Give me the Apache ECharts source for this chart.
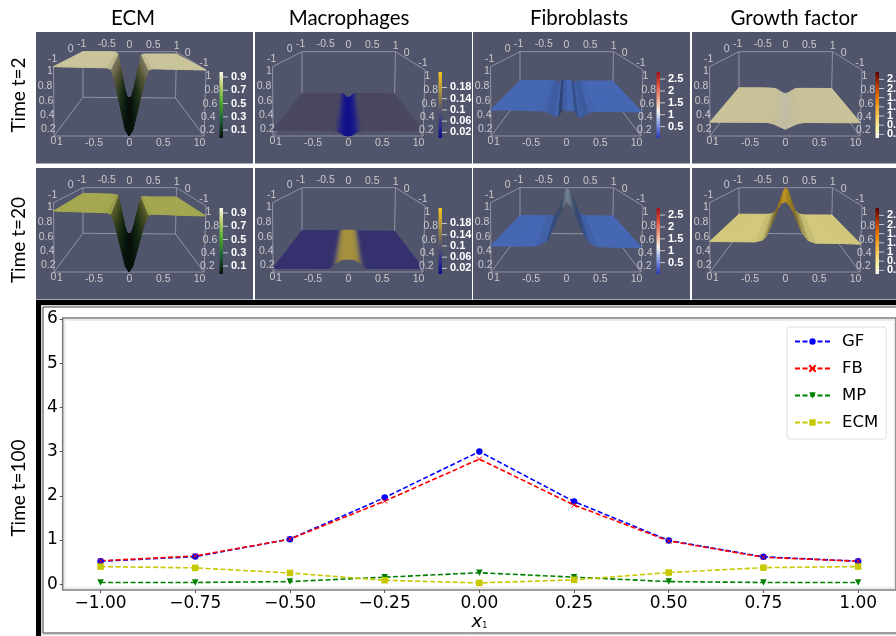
<!DOCTYPE html>
<html><head><meta charset="utf-8">
<style>html,body{margin:0;padding:0;background:#fff}#c{width:896px;height:636px;filter:blur(0.4px)}</style>
<script src="https://cdn.jsdelivr.net/npm/echarts@6/dist/echarts.min.js"></script>
</head><body><div id="c"></div>
<script>
// ---- line chart at t=100 ----
const x1Values = [-1, -0.75, -0.5, -0.25, 0, 0.25, 0.5, 0.75, 1];
const yTicks = [0, 1, 2, 3, 4, 5, 6];
const gfValues = [0.52, 0.625, 1.02, 1.96, 3.0, 1.87, 0.99, 0.62, 0.52];
const fbValues = [0.53, 0.64, 1.02, 1.88, 2.83, 1.79, 0.98, 0.61, 0.52];
const mpValues = [0.04, 0.04, 0.06, 0.16, 0.26, 0.16, 0.06, 0.04, 0.04];
const ecmValues = [0.40, 0.37, 0.255, 0.09, 0.03, 0.10, 0.265, 0.375, 0.40];

// ---- surface profiles: height along x at the near and far edge ----
const surfaceX = [-1, -0.7, -0.4, -0.3, -0.25, -0.2, -0.15, -0.1, -0.05, 0, 0.05, 0.1, 0.15, 0.2, 0.25, 0.3, 0.4, 0.7, 1];
const ecmT2Near = [1, 1, 1, 1, .98, .83, .58, .33, .09, 0, .09, .33, .58, .83, .98, 1, 1, 1, 1];
const ecmT2Far = [1, 1, 1, .99, .95, .71, .45, .2, .02, 0, .02, .2, .45, .71, .93, .95, .95, .95, .95];
const ecmT20Near = [.88, .875, .87, .87, .85, .73, .52, .3, .09, 0, .09, .3, .52, .73, .85, .86, .86, .85, .85];
const ecmT20Far = [.875, .87, .86, .85, .83, .63, .4, .18, .02, 0, .02, .18, .4, .63, .8, .81, .8, .8, .8];
const mpT2Near = [.085, .085, .085, .085, .085, .08, .07, .045, .01, 0, .01, .045, .07, .08, .085, .085, .085, .085, .085];
const mpT2Far = [.09, .09, .09, .09, .09, .09, .09, .075, .02, 0, .02, .075, .09, .09, .09, .09, .09, .09, .09];
const mpT20Near = [.055, .055, .055, .055, .055, .09, .14, .175, .19, .19, .19, .175, .14, .09, .055, .055, .055, .055, .055];
const mpT20Far = [.06, .06, .06, .06, .06, .06, .065, .075, .075, .075, .075, .075, .065, .06, .06, .06, .06, .06, .06];
const fbT2Near = [.375, .375, .37, .365, .35, .32, .29, .30, .40, .375, .375, .37, .30, .28, .31, .35, .365, .365, .365];
const fbT2Far = [.365, .365, .365, .365, .365, .36, .33, .38, .38, .37, .38, .38, .33, .35, .365, .365, .365, .365, .365];
const fbT20Near = [.375, .375, .38, .43, .46, .59, .70, .82, .95, 1.04, .98, .89, .76, .63, .52, .44, .38, .37, .37];
const fbT20Far = [.39, .39, .39, .39, .39, .46, .55, .72, .88, 1, .95, .85, .74, .62, .50, .42, .39, .39, .39];
const gfT2Near = [.2, .2, .2, .2, .2, .19, .175, .15, .125, .1, .125, .15, .175, .19, .2, .2, .2, .2, .2];
const gfT2Far = [.21, .21, .21, .205, .2, .19, .16, .13, .1, .09, .1, .13, .16, .19, .2, .205, .205, .205, .205];
const gfT20Near = [.44, .44, .44, .47, .53, .66, .80, .94, 1.02, 1.04, .98, .89, .76, .63, .54, .47, .43, .43, .42];
const gfT20Far = [.42, .42, .42, .43, .46, .51, .62, .76, .92, 1, .94, .78, .64, .52, .46, .43, .41, .41, .41];

// ---- colour-bar tick labels ----
const ecmBarTicks = [0.9, 0.7, 0.5, 0.3, 0.1];
const mpBarTicks = [0.18, 0.14, 0.1, 0.06, 0.02];
const fbBarTicks = [2.5, 2, 1.5, 1, 0.5];
const gfBarTicks = [2.6, 2.2, 1.8, 1.4, 1, 0.6, 0.2];

const columnTitles = ['ECM', 'Macrophages', 'Fibroblasts', 'Growth factor'];

// ---- layout and styles ----
const PANEL_BG = '#51556c';
const panelLeft = [36, 255, 473, 692];
const panelTop = [32, 168];
const panelW = [217, 217, 217, 204], panelH = 131.5;
const titleX = [133, 349, 579, 794];
const corners = { nBL:[18,104], nBR:[168,104], fBL:[47,65.3], fBR:[139.5,66], nTL:[17.5,34.7], nTR:[170,38], fTL:[47,19.7], fTR:[140.5,19.7] };
const axisText = [
 ['-1',45.7,12],['-0.5',70.7,12],['0',93.3,13],['0.5',117.3,13],['1',140.7,14],['0',34.7,17.3],['0',151.7,20.7],['-1',16.7,27],['-1',168,30.7],
 ['1',14,39],['0.8',9,54],['0.6',10,68.7],['0.4',11.3,83],['0.2',12.3,97.3],
 ['0',17.3,109],['1',24,109.7],['-0.5',58,110.7],['0',93.3,111.3],['0.5',127.3,111.3],['1',160.7,111.3],['0',166.3,111.3],
 ['1',172.3,43.7],['0.8',175.7,58],['0.6',174,72],['0.4',172.3,85.3],['0.2',171.3,98]
];
const barRanges = [[-0.02,0.976],[0,0.235],[0.02,2.8],[0.04,2.92]];
const barTicks = [ecmBarTicks, mpBarTicks, fbBarTicks, gfBarTicks];
const barGradients = [
 [[0,'#fdfdf0'],[.18,'#c8d27a'],[.45,'#4fae2e'],[.72,'#1b5f38'],[1,'#0a0e0e']],
 [[0,'#f3c420'],[.3,'#a8923e'],[.55,'#5c5a68'],[.75,'#3a3a88'],[1,'#0c0c8c']],
 [[0,'#9c1616'],[.2,'#e2503c'],[.42,'#f2ab90'],[.6,'#f4f4f4'],[.8,'#7c98e6'],[1,'#2434b4']],
 [[0,'#5a0000'],[.22,'#bc3c00'],[.42,'#ee8200'],[.65,'#f8c850'],[.85,'#f8f0a4'],[1,'#ffffff']]
];
const panels = [
 {c:0,r:0,k:.17,near:ecmT2Near,far:ecmT2Far,stops:[[0,'#0a120e'],[.2,'#10281a'],[.5,'#33522a'],[.8,'#8c8a56'],[.95,'#cbc59c'],[1,'#cbc59c']]},
 {c:1,r:0,k:0,near:mpT2Near,far:mpT2Far,stops:[[0,'#10108c'],[.045,'#1f1e86'],[.07,'#3a3878'],[.08,'#4a4860'],[.1,'#4a4860']]},
 {c:2,r:0,k:.17,near:fbT2Near,far:fbT2Far,stops:[[0,'#4668b4'],[1,'#4668b4']]},
 {c:3,r:0,k:.04,near:gfT2Near,far:gfT2Far,stops:[[.1,'#c6c2aa'],[.2,'#cac39a']]},
 {c:0,r:1,k:.17,near:ecmT20Near,far:ecmT20Far,stops:[[0,'#0a120e'],[.2,'#0e2618'],[.5,'#28481f'],[.75,'#6e7a34'],[.85,'#a4a850'],[1,'#a4a850']]},
 {c:1,r:1,k:0,near:mpT20Near,far:mpT20Far,stops:[[.055,'#35326f'],[.09,'#423e70'],[.13,'#6f6560'],[.17,'#9c8a45'],[.19,'#a6913f']]},
 {c:2,r:1,k:.12,near:fbT20Near,far:fbT20Far,stops:[[.4,'#4668b4'],[.7,'#4f6cac'],[.92,'#5f7494'],[1.04,'#8698a8']]},
 {c:3,r:1,k:.12,near:gfT20Near,far:gfT20Far,stops:[[.44,'#d2c97c'],[.65,'#c8b860'],[.88,'#b89a30'],[1.04,'#c39a25']]}
];

function lerp(a,b,t){return a+(b-a)*t;}
function hex(c){return [parseInt(c.slice(1,3),16),parseInt(c.slice(3,5),16),parseInt(c.slice(5,7),16)];}
function colourAt(stops,v,shade){
  let rgb;
  if(v<=stops[0][0]) rgb=hex(stops[0][1]);
  else if(v>=stops[stops.length-1][0]) rgb=hex(stops[stops.length-1][1]);
  else for(let i=0;i<stops.length-1;i++){
    if(v>=stops[i][0]&&v<=stops[i+1][0]){
      const t=(v-stops[i][0])/(stops[i+1][0]-stops[i][0]||1),a=hex(stops[i][1]),b=hex(stops[i+1][1]);
      rgb=[lerp(a[0],b[0],t),lerp(a[1],b[1],t),lerp(a[2],b[2],t)];break;
    }
  }
  return 'rgb('+rgb.map(function(q){return Math.round(q*shade);}).join(',')+')';
}
// project (x in -1..1, t near=0..far=1, z height 0..1) through the box's eight corners
function project(x,t,z){
  const u=(x+1)/2, C=corners;
  const bot=[lerp(lerp(C.nBL[0],C.nBR[0],u),lerp(C.fBL[0],C.fBR[0],u),t),lerp(lerp(C.nBL[1],C.nBR[1],u),lerp(C.fBL[1],C.fBR[1],u),t)];
  const top=[lerp(lerp(C.nTL[0],C.nTR[0],u),lerp(C.fTL[0],C.fTR[0],u),t),lerp(lerp(C.nTL[1],C.nTR[1],u),lerp(C.fTL[1],C.fTR[1],u),t)];
  return [lerp(bot[0],top[0],z),lerp(bot[1],top[1],z)];
}
function surfaceSeries(p,gridIndex){
  const data=surfaceX.map(function(x,i){return [x,p.near[i],p.far[i]];});
  return {type:'custom',xAxisIndex:gridIndex,yAxisIndex:gridIndex,silent:true,z:3,clip:false,data:data,
    encode:{x:0,y:1},
    renderItem:function(params,api){
      const i=params.dataIndex; if(i>=data.length-1) return {type:'group',children:[]};
      const a=data[i],b=data[i+1],children=[],n=4;
      const slope=Math.abs((b[1]-a[1])/(b[0]-a[0]));
      const shade=Math.max(0.6,1-p.k*slope);
      for(let k=0;k<n;k++){
        const s0=k/n,s1=(k+1)/n,x0=lerp(a[0],b[0],s0),x1=lerp(a[0],b[0],s1);
        const zn0=lerp(a[1],b[1],s0),zn1=lerp(a[1],b[1],s1),zf0=lerp(a[2],b[2],s0),zf1=lerp(a[2],b[2],s1);
        const pts=[project(x0,0,zn0),project(x1,0,zn1),project(x1,1,zf1),project(x0,1,zf0)].map(function(q){return api.coord(q);});
        const col=colourAt(p.stops,(zn0+zn1)/2,shade);
        children.push({type:'polygon',shape:{points:pts},style:{fill:col,stroke:col,lineWidth:1},z2:Math.round((zn0+zn1)*500)});
      }
      return {type:'group',children:children};
    }};
}
function decorSeries(p,gridIndex,above){
  return {type:'custom',xAxisIndex:gridIndex,yAxisIndex:gridIndex,silent:true,z:above?4:2,clip:false,data:[[0,0]],encode:{x:0,y:1},
    renderItem:function(params,api){
      const ch=[],C=corners;
      function seg(a,b){const A=api.coord(a),B=api.coord(b);ch.push({type:'line',shape:{x1:A[0],y1:A[1],x2:B[0],y2:B[1]},style:{stroke:'#8f92a4',lineWidth:1}});}
      if(!above){
        [[C.fTL,C.fTR],[C.fBL,C.fBR],[C.nBL,C.nBR],[C.fTL,C.fBL],[C.fTR,C.fBR],[C.nTL,C.nBL],[C.nTR,C.nBR],[C.nBL,C.fBL],[C.nBR,C.fBR],[C.nTL,C.fTL],[C.nTR,C.fTR]].forEach(function(s){seg(s[0],s[1]);});
        return {type:'group',children:ch};
      }
      axisText.forEach(function(t){const q=api.coord([t[1],t[2]]);ch.push({type:'text',style:{text:t[0],x:q[0],y:q[1],align:'center',verticalAlign:'middle',fill:'#c9c9c9',font:'10.5px "Liberation Sans"'}});});
      const barL=api.coord([183.5,40]),barR=api.coord([187,106]),range=barRanges[p.c];
      const cs=barGradients[p.c].map(function(s){return {offset:s[0],color:s[1]};});
      ch.push({type:'rect',shape:{x:barL[0],y:barL[1],width:barR[0]-barL[0],height:barR[1]-barL[1]},style:{fill:new echarts.graphic.LinearGradient(0,0,0,1,cs)}});
      barTicks[p.c].forEach(function(v){
        const y=106-(v-range[0])/(range[1]-range[0])*66;
        const a=api.coord([187,y]),b=api.coord([192,y]),l=api.coord([195,y]);
        ch.push({type:'line',shape:{x1:a[0],y1:a[1],x2:b[0],y2:b[1]},style:{stroke:'#c9c9c9',lineWidth:1}});
        ch.push({type:'text',style:{text:String(v),x:l[0],y:l[1],align:'left',verticalAlign:'middle',fill:'#ffffff',font:'bold 11px "Liberation Sans"'}});
      });
      return {type:'group',children:ch};
    }};
}

const FONT='"DejaVu Sans"', LABEL='Lato';
const grids=[{left:62.7,top:318,width:834.5,height:272,show:true,backgroundColor:'transparent',borderColor:'#7d7d7d',borderWidth:1.6}];
const xAxes=[{type:'value',gridIndex:0,min:-1.1,max:1.1,splitLine:{show:false},axisLine:{show:false,onZero:false},
  axisTick:{show:true,length:3,customValues:x1Values,lineStyle:{color:'#555'}},
  axisLabel:{customValues:x1Values,margin:5,color:'#000',fontFamily:FONT,fontSize:17,
    formatter:function(v){return (v<0?'\u2212':'')+Math.abs(v).toFixed(2);}},
  name:'{a|x}{b|1}',nameLocation:'middle',nameGap:20,
  nameTextStyle:{rich:{a:{fontFamily:FONT,fontStyle:'italic',fontSize:18,color:'#000'},b:{fontFamily:FONT,fontSize:8,color:'#000',padding:[9,0,0,0]}}}}];
const yAxes=[{type:'value',gridIndex:0,min:-0.13,max:6.02,splitLine:{show:false},axisLine:{show:false,onZero:false},
  axisTick:{show:true,length:3,customValues:yTicks,lineStyle:{color:'#555'}},
  axisLabel:{customValues:yTicks,margin:5,color:'#000',fontFamily:FONT,fontSize:17,padding:[4,0,0,0]}}];
const series=[];
panels.forEach(function(p){
  const w=panelW[p.c],g=grids.length;
  grids.push({left:panelLeft[p.c],top:panelTop[p.r],width:w,height:panelH,show:true,backgroundColor:PANEL_BG,borderWidth:0});
  xAxes.push({type:'value',gridIndex:g,min:0,max:w,show:false});
  yAxes.push({type:'value',gridIndex:g,min:0,max:panelH,inverse:true,show:false});
  series.push(decorSeries(p,g,false),surfaceSeries(p,g),decorSeries(p,g,true));
});
const xMark='path://M0 0L10 10M10 0L0 10';
function lineSeries(name,values,color,symbol,size,extra){
  return Object.assign({type:'line',name:name,xAxisIndex:0,yAxisIndex:0,z:5,data:x1Values.map(function(x,i){return [x,values[i]];}),
    symbol:symbol,symbolSize:size,showSymbol:true,lineStyle:{color:color,width:1.6,type:[5,2.5]},itemStyle:{color:color}},extra||{});
}
series.push(
  lineSeries('GF',gfValues,'#0000ff','circle',6.5),
  lineSeries('FB',fbValues,'#ff0000',xMark,5,{itemStyle:{color:'#ff0000',borderColor:'#ff0000',borderWidth:1}}),
  lineSeries('MP',mpValues,'#008000','triangle',6.5,{symbolRotate:180}),
  lineSeries('ECM',ecmValues,'#c8c800','rect',6.5)
);
const graphicEls=[
  {type:'rect',z:-5,shape:{x:36,y:300,width:860,height:336},style:{fill:'#000'}},
  {type:'rect',z:-4,shape:{x:41,y:305,width:860,height:331},style:{fill:'#fff'}},
  {type:'rect',z:-3,shape:{x:41.5,y:305.5,width:860,height:329},style:{fill:'none',stroke:'#cfcfcf',lineWidth:1}},
  {type:'rect',z:-3,shape:{x:43,y:307,width:860,height:326},style:{fill:'none',stroke:'#3c3c3c',lineWidth:1}},
  {type:'rect',z:-2,shape:{x:64.7,y:320,width:830,height:268},style:{fill:'none',stroke:'#ececec',lineWidth:2}}
];
columnTitles.forEach(function(t,i){graphicEls.push({type:'text',z:10,style:{text:t,x:titleX[i],y:18,align:'center',verticalAlign:'middle',fill:'#000',font:'20.5px '+LABEL}});});
[['Time t=2',95],['Time t=20',240],['Time t=100',488]].forEach(function(t){
  graphicEls.push({type:'text',z:10,x:19,y:t[1],rotation:Math.PI/2,style:{text:t[0],x:0,y:0,align:'center',verticalAlign:'middle',fill:'#000',font:'19px '+LABEL}});
});
const chart=echarts.init(document.getElementById('c'),null,{renderer:'canvas'});
chart.setOption({animation:false,backgroundColor:'#fff',grid:grids,xAxis:xAxes,yAxis:yAxes,series:series,graphic:{elements:graphicEls},
  legend:{data:['GF','FB','MP','ECM'],orient:'vertical',left:787,top:327,padding:[6,8,8,7],itemWidth:35,itemHeight:8,itemGap:10,
    backgroundColor:'#fff',borderColor:'#dcdcdc',borderWidth:1,borderRadius:3,selectedMode:false,
    textStyle:{fontFamily:FONT,fontSize:16.5,lineHeight:16,color:'#000',padding:[0,0,0,7]}}});
</script></body></html>
